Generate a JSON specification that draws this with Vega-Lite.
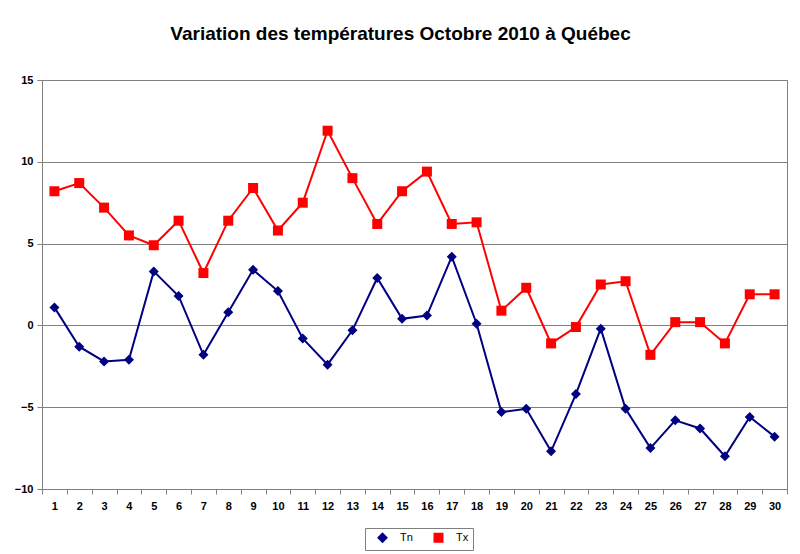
{
  "$schema": "https://vega.github.io/schema/vega-lite/v6.json",
  "width": 745,
  "height": 409,
  "autosize": {"type": "none"},
  "padding": {"left": 42, "top": 80, "right": 13, "bottom": 65},
  "background": "white",
  "config": {
    "view": {"stroke": "#808080", "strokeWidth": 1},
    "font": "Liberation Sans"
  },
  "title": {
    "text": "Variation des températures Octobre 2010 à Québec",
    "font": "Liberation Sans",
    "fontSize": 19,
    "fontWeight": "bold",
    "color": "#000000",
    "anchor": "middle",
    "frame": "group",
    "dx": -14,
    "offset": 30
  },
  "data": {
    "values": [
      {"day": 1, "series": "Tn", "t": 1.1}, {"day": 2, "series": "Tn", "t": -1.3}, {"day": 3, "series": "Tn", "t": -2.2},
      {"day": 4, "series": "Tn", "t": -2.1}, {"day": 5, "series": "Tn", "t": 3.3}, {"day": 6, "series": "Tn", "t": 1.8},
      {"day": 7, "series": "Tn", "t": -1.8}, {"day": 8, "series": "Tn", "t": 0.8}, {"day": 9, "series": "Tn", "t": 3.4},
      {"day": 10, "series": "Tn", "t": 2.1}, {"day": 11, "series": "Tn", "t": -0.8}, {"day": 12, "series": "Tn", "t": -2.4},
      {"day": 13, "series": "Tn", "t": -0.3}, {"day": 14, "series": "Tn", "t": 2.9}, {"day": 15, "series": "Tn", "t": 0.4},
      {"day": 16, "series": "Tn", "t": 0.6}, {"day": 17, "series": "Tn", "t": 4.2}, {"day": 18, "series": "Tn", "t": 0.1},
      {"day": 19, "series": "Tn", "t": -5.3}, {"day": 20, "series": "Tn", "t": -5.1}, {"day": 21, "series": "Tn", "t": -7.7},
      {"day": 22, "series": "Tn", "t": -4.2}, {"day": 23, "series": "Tn", "t": -0.2}, {"day": 24, "series": "Tn", "t": -5.1},
      {"day": 25, "series": "Tn", "t": -7.5}, {"day": 26, "series": "Tn", "t": -5.8}, {"day": 27, "series": "Tn", "t": -6.3},
      {"day": 28, "series": "Tn", "t": -8.0}, {"day": 29, "series": "Tn", "t": -5.6}, {"day": 30, "series": "Tn", "t": -6.8},
      {"day": 1, "series": "Tx", "t": 8.2}, {"day": 2, "series": "Tx", "t": 8.7}, {"day": 3, "series": "Tx", "t": 7.2},
      {"day": 4, "series": "Tx", "t": 5.5}, {"day": 5, "series": "Tx", "t": 4.9}, {"day": 6, "series": "Tx", "t": 6.4},
      {"day": 7, "series": "Tx", "t": 3.2}, {"day": 8, "series": "Tx", "t": 6.4}, {"day": 9, "series": "Tx", "t": 8.4},
      {"day": 10, "series": "Tx", "t": 5.8}, {"day": 11, "series": "Tx", "t": 7.5}, {"day": 12, "series": "Tx", "t": 11.9},
      {"day": 13, "series": "Tx", "t": 9.0}, {"day": 14, "series": "Tx", "t": 6.2}, {"day": 15, "series": "Tx", "t": 8.2},
      {"day": 16, "series": "Tx", "t": 9.4}, {"day": 17, "series": "Tx", "t": 6.2}, {"day": 18, "series": "Tx", "t": 6.3},
      {"day": 19, "series": "Tx", "t": 0.9}, {"day": 20, "series": "Tx", "t": 2.3}, {"day": 21, "series": "Tx", "t": -1.1},
      {"day": 22, "series": "Tx", "t": -0.1}, {"day": 23, "series": "Tx", "t": 2.5}, {"day": 24, "series": "Tx", "t": 2.7},
      {"day": 25, "series": "Tx", "t": -1.8}, {"day": 26, "series": "Tx", "t": 0.2}, {"day": 27, "series": "Tx", "t": 0.2},
      {"day": 28, "series": "Tx", "t": -1.1}, {"day": 29, "series": "Tx", "t": 1.9}, {"day": 30, "series": "Tx", "t": 1.9}
    ]
  },
  "encoding": {
    "x": {
      "field": "day",
      "type": "ordinal",
      "bandPosition": 0.5,
      "scale": {"type": "band", "paddingInner": 0, "paddingOuter": 0},
      "axis": {
        "title": null,
        "labelAngle": 0,
        "tickBand": "extent",
        "grid": false,
        "domainColor": "#808080",
        "tickColor": "#808080",
        "tickSize": 5,
        "labelPadding": 6,
        "labelFont": "Liberation Sans",
        "labelFontSize": 11,
        "labelFontWeight": "bold",
        "labelColor": "#000000"
      }
    },
    "y": {
      "field": "t",
      "type": "quantitative",
      "scale": {"domain": [-10, 15], "nice": false, "zero": false},
      "axis": {
        "title": null,
        "values": [-10, -5, 0, 5, 10, 15],
        "grid": true,
        "gridColor": "#808080",
        "gridOpacity": 1,
        "domainColor": "#808080",
        "tickColor": "#808080",
        "tickSize": 5,
        "labelPadding": 4,
        "labelFont": "Liberation Sans",
        "labelFontSize": 11,
        "labelFontWeight": "bold",
        "labelColor": "#000000"
      }
    },
    "color": {
      "field": "series",
      "type": "nominal",
      "scale": {"domain": ["Tn", "Tx"], "range": ["#000080", "#FF0000"]},
      "legend": {
        "title": null,
        "orient": "none",
        "direction": "horizontal",
        "legendX": 323,
        "legendY": 448,
        "strokeColor": "#808080",
        "padding": 4,
        "symbolSize": 64,
        "symbolOffset": 8,
        "symbolStrokeWidth": 2,
        "labelOffset": 12,
        "columnPadding": 12,
        "labelFont": "Liberation Sans",
        "labelFontSize": 11,
        "labelColor": "#000000"
      }
    }
  },
  "layer": [
    {
      "mark": {"type": "line", "strokeWidth": 2}
    },
    {
      "mark": {"type": "point", "filled": true, "size": 100, "opacity": 1},
      "encoding": {
        "shape": {
          "field": "series",
          "type": "nominal",
          "scale": {"domain": ["Tn", "Tx"], "range": ["diamond", "square"]},
          "legend": null
        }
      }
    }
  ]
}
